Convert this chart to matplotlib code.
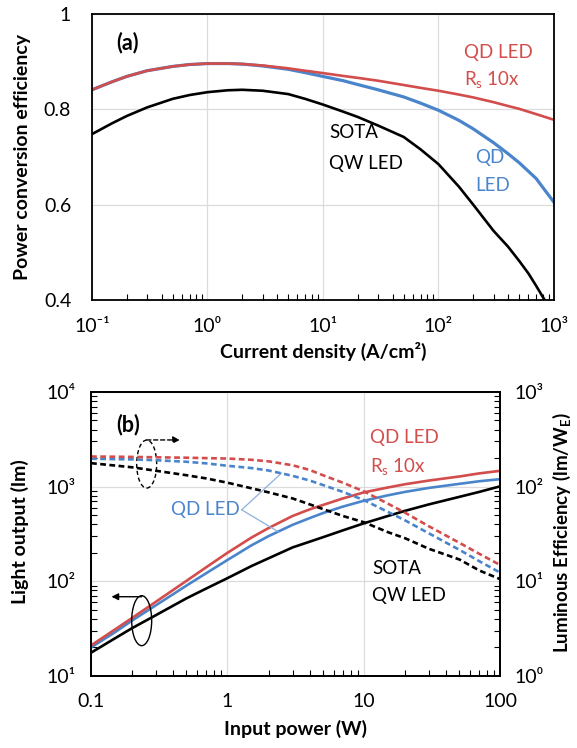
import numpy as np
import matplotlib
matplotlib.use("Agg")
import matplotlib.pyplot as plt
from matplotlib.patches import Ellipse
from matplotlib.ticker import LogLocator, NullFormatter, FixedLocator

plt.rcParams['font.family'] = ['Lato', 'DejaVu Sans']
plt.rcParams['mathtext.fontset'] = 'custom'
plt.rcParams['mathtext.rm'] = 'Lato'
plt.rcParams['mathtext.bf'] = 'Lato:bold'

RED = '#D24D4B'
BLUE = '#4A85CC'
GRID = '#DCDCDC'

# ---- panel (a): power conversion efficiency vs current density
j_qd = [0.1, 0.15, 0.2, 0.3, 0.5, 0.7, 1, 1.5, 2, 3, 5, 7, 10, 15, 20, 30, 50, 70,
        100, 150, 200, 300, 400, 500, 700, 1000]
pce_qd_rs = [0.841, 0.858, 0.869, 0.881, 0.890, 0.894, 0.896, 0.896, 0.895, 0.892, 0.886,
             0.881, 0.876, 0.870, 0.866, 0.860, 0.851, 0.845, 0.839, 0.831, 0.825, 0.815,
             0.807, 0.801, 0.790, 0.778]
pce_qd = [0.841, 0.858, 0.869, 0.881, 0.890, 0.894, 0.896, 0.896, 0.895, 0.891, 0.884,
          0.877, 0.869, 0.860, 0.852, 0.841, 0.826, 0.813, 0.798, 0.777, 0.759, 0.730,
          0.707, 0.688, 0.655, 0.605]
j_qw = [0.1, 0.15, 0.2, 0.3, 0.5, 0.7, 1, 1.5, 2, 3, 5, 7, 10, 15, 20, 30, 50, 70,
        100, 150, 200, 300, 400, 500, 600, 700, 830]
pce_qw = [0.748, 0.771, 0.786, 0.804, 0.822, 0.830, 0.836, 0.840, 0.841, 0.839, 0.832,
          0.822, 0.810, 0.795, 0.784, 0.766, 0.742, 0.716, 0.685, 0.638, 0.600, 0.545,
          0.512, 0.482, 0.456, 0.430, 0.400]

# ---- panel (b): light output / luminous efficiency vs input power
p_in = [0.1, 0.15, 0.2, 0.3, 0.5, 0.7, 1, 1.5, 2, 3, 4, 5, 7, 10, 15, 20, 30, 50, 70, 100]
lm_qd_rs = [21, 31, 41, 61, 101, 141, 200, 290, 365, 490, 575, 640, 750, 870, 980, 1060,
            1160, 1280, 1380, 1470]
lm_qd = [20, 29, 38.5, 56, 90, 122, 168, 240, 300, 395, 465, 525, 615, 710, 810, 880,
         970, 1070, 1140, 1200]
lm_qw = [17.6, 25, 32, 44, 66, 84, 108, 145, 175, 228, 262, 292, 345, 410, 490, 555,
         650, 780, 880, 1010]
eff_qd_rs = [208, 207, 206, 204, 202, 200, 198, 192, 185, 168, 150, 132, 110, 89, 66, 53,
             38, 25.5, 19.5, 14.8]
eff_qd = [197, 195, 194, 190, 183, 176, 166, 157, 148, 130, 116, 104, 88, 72, 54, 44,
          32, 21.5, 16.3, 12.3]
eff_qw = [177, 167, 160, 147, 132, 122, 110, 96, 87, 75, 65, 58, 49, 42, 33, 28.5,
          22, 17, 13, 10.5]

fig = plt.figure(figsize=(5.77, 7.48), dpi=100)

# ================= (a)
ax = fig.add_axes([0.1594, 0.5989, 0.8007, 0.3824])
ax.plot(j_qw, pce_qw, color='black', lw=1.9)
ax.plot(j_qd, pce_qd, color=BLUE, lw=2.3)
ax.plot(j_qd, pce_qd_rs, color=RED, lw=1.9)
ax.set_xscale('log')
ax.set_xlim(0.1, 1000)
ax.set_ylim(0.4, 1.0)
ax.set_yticks([0.4, 0.6, 0.8, 1.0])
ax.set_yticklabels(['0.4', '0.6', '0.8', '1'])
ax.xaxis.set_major_locator(FixedLocator([0.1, 1, 10, 100, 1000]))
ax.set_xticklabels(['10⁻¹', '10⁰', '10¹', '10²', '10³'])
ax.xaxis.set_minor_locator(LogLocator(base=10, subs=np.arange(2, 10)))
ax.xaxis.set_minor_formatter(NullFormatter())
ax.grid(True, which='major', color=GRID, lw=0.9)
ax.tick_params(axis='both', which='major', length=0, labelsize=14)
ax.tick_params(axis='y', pad=15)
ax.tick_params(axis='x', pad=13)
ax.tick_params(axis='x', which='minor', direction='in', length=4, width=0.8)
ax.set_ylabel('Power conversion efficiency', fontsize=14, fontweight='bold')
ax.set_xlabel('Current density (A/cm²)', fontsize=14, fontweight='bold')
ax.yaxis.set_label_coords(-0.132, 0.5)
ax.xaxis.set_label_coords(0.5, -0.147)
for s in ax.spines.values():
    s.set_linewidth(1.3)

ax.text(0.076, 0.899, '(a)', transform=ax.transAxes, fontsize=15.5,
        fontweight='bold', ha='center', va='center')
ax.text(0.805, 0.867, 'QD LED', transform=ax.transAxes, color=RED, fontsize=13.5, va='center')
ax.text(0.805, 0.769, 'R$_\\mathregular{s}$ 10x', transform=ax.transAxes, color=RED, fontsize=13.5, va='center')
ax.text(0.513, 0.584, 'SOTA', transform=ax.transAxes, fontsize=13.5, va='center')
ax.text(0.513, 0.479, 'QW LED', transform=ax.transAxes, fontsize=13.5, va='center')
ax.text(0.829, 0.497, 'QD', transform=ax.transAxes, color=BLUE, fontsize=13.5, va='center')
ax.text(0.829, 0.402, 'LED', transform=ax.transAxes, color=BLUE, fontsize=13.5, va='center')

# ================= (b)
bx = fig.add_axes([0.1577, 0.0963, 0.7097, 0.3797])
bx.plot(p_in, lm_qw, color='black', lw=1.9)
bx.plot(p_in, lm_qd, color=BLUE, lw=1.9)
bx.plot(p_in, lm_qd_rs, color=RED, lw=1.9)
bx.set_xscale('log')
bx.set_yscale('log')
bx.set_xlim(0.1, 100)
bx.set_ylim(10, 1e4)
bx.xaxis.set_major_locator(FixedLocator([0.1, 1, 10, 100]))
bx.set_xticklabels(['0.1', '1', '10', '100'])
bx.yaxis.set_major_locator(FixedLocator([10, 100, 1000, 10000]))
bx.set_yticklabels(['10¹', '10²', '10³', '10⁴'])
for a in (bx.xaxis, bx.yaxis):
    a.set_minor_locator(LogLocator(base=10, subs=np.arange(2, 10)))
    a.set_minor_formatter(NullFormatter())
bx.grid(True, which='major', color=GRID, lw=0.9)
bx.tick_params(axis='both', which='major', length=0, labelsize=14)
bx.tick_params(axis='y', pad=11)
bx.tick_params(axis='x', pad=12)
bx.tick_params(axis='both', which='minor', direction='in', length=4, width=0.8)
bx.set_ylabel('Light output (lm)', fontsize=14, fontweight='bold')
bx.set_xlabel('Input power (W)', fontsize=14, fontweight='bold')
bx.yaxis.set_label_coords(-0.151, 0.508)
bx.xaxis.set_label_coords(0.5, -0.155)

tx = bx.twinx()
tx.plot(p_in, eff_qw, color='black', lw=1.9, ls='--', dashes=(2.2, 1.3))
tx.plot(p_in, eff_qd, color=BLUE, lw=1.9, ls='--', dashes=(2.2, 1.3))
tx.plot(p_in, eff_qd_rs, color=RED, lw=1.9, ls='--', dashes=(2.2, 1.3))
tx.set_yscale('log')
tx.set_ylim(1, 1000)
tx.yaxis.set_major_locator(FixedLocator([1, 10, 100, 1000]))
tx.set_yticklabels(['10⁰', '10¹', '10²', '10³'])
tx.yaxis.set_minor_locator(LogLocator(base=10, subs=np.arange(2, 10)))
tx.yaxis.set_minor_formatter(NullFormatter())
tx.tick_params(axis='y', which='major', length=0, labelsize=14, pad=10)
tx.tick_params(axis='y', which='minor', direction='in', length=4, width=0.8)
tx.set_ylabel('Luminous Efficiency (lm/W$_\\mathregular{E}$)', fontsize=13.5, fontweight='bold')
tx.yaxis.set_label_coords(1.121, 0.507)
for a in (bx, tx):
    for s in a.spines.values():
        s.set_linewidth(1.3)

T = bx.transAxes
bx.text(0.090, 0.884, '(b)', transform=T, fontsize=15.5, fontweight='bold', ha='center', va='center')
bx.text(0.681, 0.838, 'QD LED', transform=T, color=RED, fontsize=13.5, va='center')
bx.text(0.681, 0.736, 'R$_\\mathregular{s}$ 10x', transform=T, color=RED, fontsize=13.5, va='center')
bx.text(0.686, 0.380, 'SOTA', transform=T, fontsize=13.5, va='center')
bx.text(0.686, 0.285, 'QW LED', transform=T, fontsize=13.5, va='center')
bx.text(0.195, 0.585, 'QD LED', transform=T, color=BLUE, fontsize=13.5, va='center')
bx.plot([0.368, 0.465], [0.585, 0.714], transform=T, color='#8DB0DC', lw=0.9, clip_on=False)
bx.plot([0.368, 0.457], [0.585, 0.508], transform=T, color='#8DB0DC', lw=0.9, clip_on=False)

# axis indicator ellipses
bx.add_patch(Ellipse((0.136, 0.746), 0.0488, 0.169, transform=T, fill=False,
                     ec='black', lw=1.0, ls=(0, (3, 2)), zorder=5))
bx.annotate('', xy=(0.2173, 0.831), xytext=(0.136, 0.831), xycoords=T, textcoords=T,
            arrowprops=dict(arrowstyle='-|>', color='black', lw=1.0, ls=(0, (3, 2)),
                            mutation_scale=10, shrinkA=0, shrinkB=0))
bx.add_patch(Ellipse((0.1238, 0.1947), 0.0488, 0.176, transform=T, fill=False,
                     ec='black', lw=1.0, zorder=5))
bx.annotate('', xy=(0.05, 0.279), xytext=(0.1238, 0.279), xycoords=T, textcoords=T,
            arrowprops=dict(arrowstyle='-|>', color='black', lw=1.0,
                            mutation_scale=10, shrinkA=0, shrinkB=0))

fig.savefig('out.png', dpi=100)
